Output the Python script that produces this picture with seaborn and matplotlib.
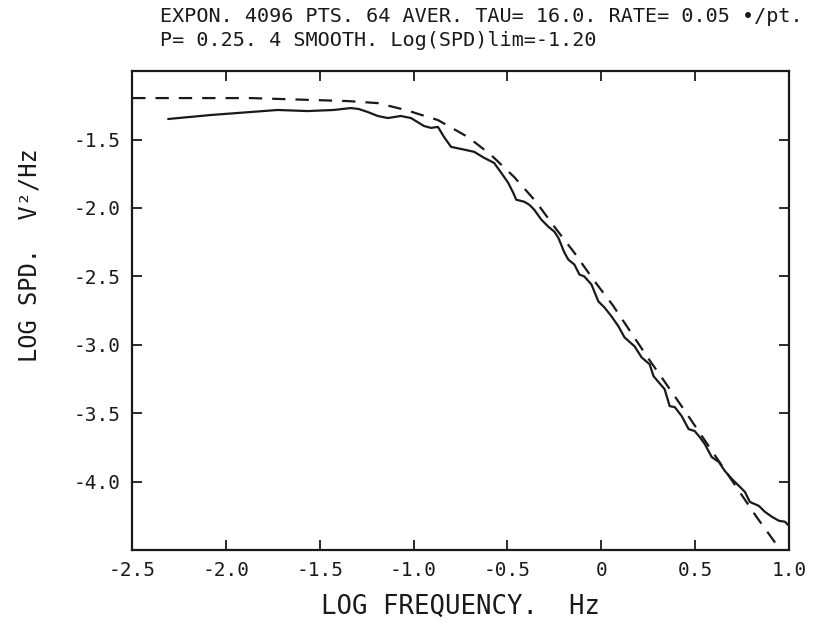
import pandas as pd
import seaborn as sns
import matplotlib.pyplot as plt

# Maalt spektrum (heltrukken linje), lest av bildet
logf_maalt = [-2.308, -2.083, -1.869, -1.725, -1.565, -1.426, -1.335, -1.292,
              -1.244, -1.191, -1.137, -1.068, -1.014, -0.945, -0.907, -0.870,
              -0.838, -0.800, -0.747, -0.677, -0.624, -0.571, -0.533, -0.496,
              -0.469, -0.453, -0.410, -0.383, -0.357, -0.319, -0.282, -0.250,
              -0.229, -0.196, -0.175, -0.143, -0.116, -0.090, -0.052, -0.015,
              0.017, 0.055, 0.092, 0.124, 0.178, 0.215, 0.258, 0.279, 0.306,
              0.338, 0.365, 0.392, 0.429, 0.466, 0.498, 0.525, 0.552, 0.589,
              0.627, 0.659, 0.696, 0.734, 0.766, 0.792, 0.840, 0.873, 0.910,
              0.947, 0.979, 1.001]
logspd_maalt = [-1.350, -1.321, -1.299, -1.284, -1.292, -1.284, -1.270, -1.277,
                -1.299, -1.328, -1.343, -1.328, -1.343, -1.401, -1.415, -1.408,
                -1.481, -1.554, -1.569, -1.590, -1.634, -1.671, -1.743, -1.816,
                -1.889, -1.940, -1.955, -1.977, -2.013, -2.086, -2.137, -2.173,
                -2.217, -2.327, -2.378, -2.414, -2.487, -2.501, -2.560, -2.684,
                -2.727, -2.793, -2.866, -2.946, -3.012, -3.092, -3.143, -3.230,
                -3.274, -3.325, -3.449, -3.456, -3.522, -3.617, -3.631, -3.675,
                -3.726, -3.821, -3.857, -3.923, -3.981, -4.032, -4.076, -4.149,
                -4.178, -4.222, -4.258, -4.287, -4.294, -4.324]

# Teoretisk kurve (stiplet linje)
logf_teori = [-2.5, -1.87, -1.35, -1.19, -1.04, -0.87, -0.71, -0.587, -0.464,
              -0.351, -0.245, -0.143, -0.041, 0.060, 0.156, 0.252, 0.349,
              0.445, 0.830, 0.953, 0.98]
logspd_teori = [-1.197, -1.197, -1.219, -1.234, -1.285, -1.358, -1.482, -1.613,
                -1.774, -1.949, -2.146, -2.328, -2.526, -2.708, -2.905, -3.102,
                -3.292, -3.482, -4.263, -4.496, -4.55]

xticks = [-2.5, -2.0, -1.5, -1.0, -0.5, 0.0, 0.5, 1.0]
xticklabels = ['-2.5', '-2.0', '-1.5', '-1.0', '-0.5', '0', '0.5', '1.0']
yticks = [-4.0, -3.5, -3.0, -2.5, -2.0, -1.5]
yticklabels = ['-4.0', '-3.5', '-3.0', '-2.5', '-2.0', '-1.5']

tittel1 = 'EXPON. 4096 PTS. 64 AVER. TAU= 16.0. RATE= 0.05 \u2022/pt.'
tittel2 = 'P= 0.25. 4 SMOOTH. Log(SPD)lim=-1.20'

df_maalt = pd.DataFrame({'logf': logf_maalt, 'logspd': logspd_maalt})
df_teori = pd.DataFrame({'logf': logf_teori, 'logspd': logspd_teori})

sns.set_theme(style='ticks')
plt.rcParams['font.family'] = ['DejaVu Sans Mono', 'DejaVu Sans']

fig = plt.figure(figsize=(8.26, 6.35), dpi=100)
ax = fig.add_axes([0.160, 0.134, 0.795, 0.754])

farge = '#1a1a1a'
sns.lineplot(data=df_maalt, x='logf', y='logspd', ax=ax, color=farge,
             linewidth=1.6, sort=False)
sns.lineplot(data=df_teori, x='logf', y='logspd', ax=ax, color=farge,
             linewidth=1.6, linestyle=(0, (6, 4.5)), sort=False)

ax.set_xlim(-2.5, 1.0)
ax.set_ylim(-4.5, -1.0)
ax.set_xticks(xticks)
ax.set_xticklabels(xticklabels)
ax.set_yticks(yticks)
ax.set_yticklabels(yticklabels)
ax.tick_params(direction='in', length=7, width=1.3, top=True, right=True,
               labelsize=14, colors=farge, pad=8)
for side in ax.spines.values():
    side.set_linewidth(1.6)
    side.set_color(farge)

ax.set_xlabel('LOG FREQUENCY.  Hz', fontsize=18.5, color=farge, labelpad=10)
ax.set_ylabel('LOG SPD.  V\u00b2/Hz', fontsize=17, color=farge)
ax.yaxis.set_label_coords(-0.138, 0.616)

fig.text(160 / 826, 1 - 22 / 635, tittel1, fontsize=14.5, color=farge,
         ha='left', va='baseline')
fig.text(160 / 826, 1 - 46 / 635, tittel2, fontsize=14.5, color=farge,
         ha='left', va='baseline')

fig.savefig('out.png', dpi=100, facecolor='white')
